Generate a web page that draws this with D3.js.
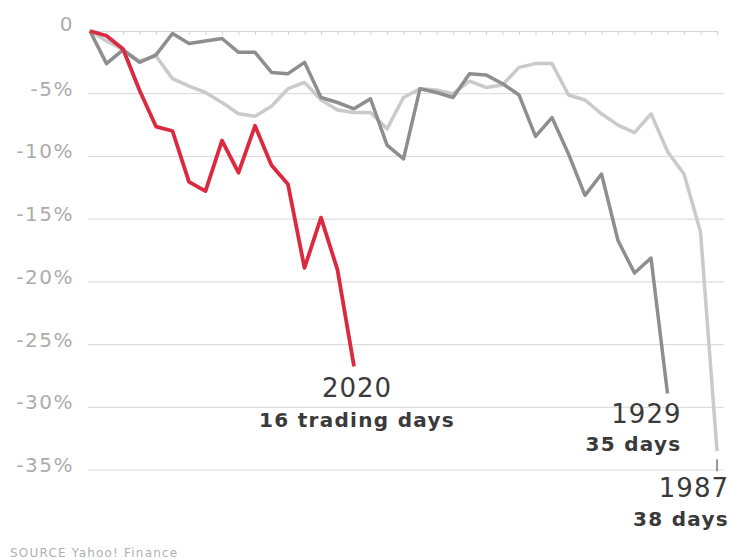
<!DOCTYPE html>
<html>
<head>
<meta charset="utf-8">
<script src="https://cdn.jsdelivr.net/npm/d3@7"></script>
<style>
  body { margin: 0; background: #fff; }
  svg { display: block; }
</style>
</head>
<body>
<div id="chart"></div>
<script>
// cumulative % drop from the peak, one value per trading day
const days2020 = [0, -0.38, -1.43, -4.73, -7.62, -7.97, -12.03, -12.76, -8.74, -11.3, -7.56, -10.7, -12.22, -18.89, -14.88, -19.04, -26.74];
const days1929 = [0, -2.6, -1.5, -2.5, -1.9, -0.2, -1.0, -0.8, -0.6, -1.7, -1.7, -3.3, -3.4, -2.5, -5.3, -5.7, -6.2, -5.4,
  -9.1, -10.2, -4.6, -4.9, -5.3, -3.4, -3.5, -4.2, -5.1, -8.4, -6.9, -9.8, -13.1, -11.4, -16.7, -19.3, -18.1, -28.9];
const days1987 = [0, -0.8, -1.5, -2.4, -2.0, -3.8, -4.4, -4.9, -5.7, -6.6, -6.8, -6.0, -4.6, -4.1, -5.5, -6.3, -6.5, -6.5,
  -7.8, -5.3, -4.6, -4.7, -5.0, -4.0, -4.5, -4.3, -2.9, -2.6, -2.6, -5.1, -5.5, -6.6, -7.5, -8.1, -6.6, -9.6, -11.4, -16.0, -33.5];
const yTicks = [0, -5, -10, -15, -20, -25, -30, -35];
const yTickLabels = ["0", "-5%", "-10%", "-15%", "-20%", "-25%", "-30%", "-35%"];

const width = 730, height = 560;
const margin = {left: 90, right: 13, top: 31, bottom: 90};

const svg = d3.select("#chart")
    .append("svg")
    .attr("width", width)
    .attr("height", height);

const xScale = d3.scaleLinear()
    .domain([0, 38])
    .range([margin.left, width - margin.right]);

const yScale = d3.scaleLinear()
    .domain([0, -35])
    .range([margin.top, height - margin.bottom]);

// horizontal gridlines
svg.append("g")
    .selectAll("line")
    .data(yTicks.slice(1))
    .join("line")
    .attr("x1", xScale(0) - 2)
    .attr("x2", xScale(38) + 7)
    .attr("y1", d => yScale(d))
    .attr("y2", d => yScale(d))
    .attr("stroke", "#dedede")
    .attr("stroke-width", 1.2);

// zero line with a tick per trading day
const xAxis = svg.append("g")
    .attr("transform", `translate(0,${yScale(0)})`)
    .call(d3.axisBottom(xScale).tickValues(d3.range(0, 39)).tickSize(4).tickFormat(""));
xAxis.select(".domain").attr("stroke", "#d4d4d4").attr("stroke-width", 1.2);
xAxis.selectAll(".tick line").attr("stroke", "#d4d4d4").attr("stroke-width", 1);

// y labels
svg.append("g")
    .selectAll("text")
    .data(yTicks)
    .join("text")
    .attr("x", 74)
    .attr("y", d => yScale(d) + (d === 0 ? 0 : 2))
    .attr("text-anchor", "end")
    .attr("font-family", "DejaVu Sans, sans-serif")
    .attr("font-size", 20)
    .attr("letter-spacing", 1.5)
    .attr("fill", "#acacac")
    .text((d, i) => yTickLabels[i]);

const line = d3.line()
    .x((d, i) => xScale(i))
    .y(d => yScale(d));

svg.append("path")
    .datum(days1987)
    .attr("fill", "none")
    .attr("stroke", "#cacaca")
    .attr("stroke-width", 3.5)
    .attr("stroke-linejoin", "round")
    .attr("d", line);

svg.append("path")
    .datum(days1929)
    .attr("fill", "none")
    .attr("stroke", "#8e8e8e")
    .attr("stroke-width", 3.5)
    .attr("stroke-linejoin", "round")
    .attr("d", line);

svg.append("path")
    .datum(days2020)
    .attr("fill", "none")
    .attr("stroke", "#db2a3f")
    .attr("stroke-width", 3.8)
    .attr("stroke-linejoin", "round")
    .attr("d", line);

// end labels
function endLabel(x, y, anchor, year, days, gap) {
    const g = svg.append("g").attr("font-family", "DejaVu Sans, sans-serif").attr("fill", "#3a3a3a");
    g.append("text")
        .attr("x", x).attr("y", y)
        .attr("text-anchor", anchor)
        .attr("font-size", 26)
        .attr("letter-spacing", 1)
        .text(year);
    g.append("text")
        .attr("x", x).attr("y", y + gap)
        .attr("text-anchor", anchor)
        .attr("font-size", 20)
        .attr("font-weight", "bold")
        .attr("letter-spacing", 1.3)
        .text(days);
}

const end2020 = days2020.length - 1, end1929 = days1929.length - 1, end1987 = days1987.length - 1;
endLabel(xScale(end2020) + 3, yScale(days2020[end2020]) + 31, "middle", "2020", "16 trading days", 30);
endLabel(xScale(end1929) + 14, yScale(days1929[end1929]) + 30, "end", "1929", "35 days", 28);
endLabel(xScale(end1987) + 12, yScale(days1987[end1987]) + 46, "end", "1987", "38 days", 29);

// leader tick under the 1987 line
svg.append("line")
    .attr("x1", xScale(end1987)).attr("x2", xScale(end1987))
    .attr("y1", yScale(days1987[end1987]) + 8)
    .attr("y2", yScale(days1987[end1987]) + 20)
    .attr("stroke", "#777")
    .attr("stroke-width", 1.5);

svg.append("text")
    .attr("x", 10)
    .attr("y", 557)
    .attr("font-family", "DejaVu Sans, sans-serif")
    .attr("font-size", 12)
    .attr("letter-spacing", 1.2)
    .attr("fill", "#b0b0b0")
    .text("SOURCE Yahoo! Finance");
</script>
</body>
</html>
